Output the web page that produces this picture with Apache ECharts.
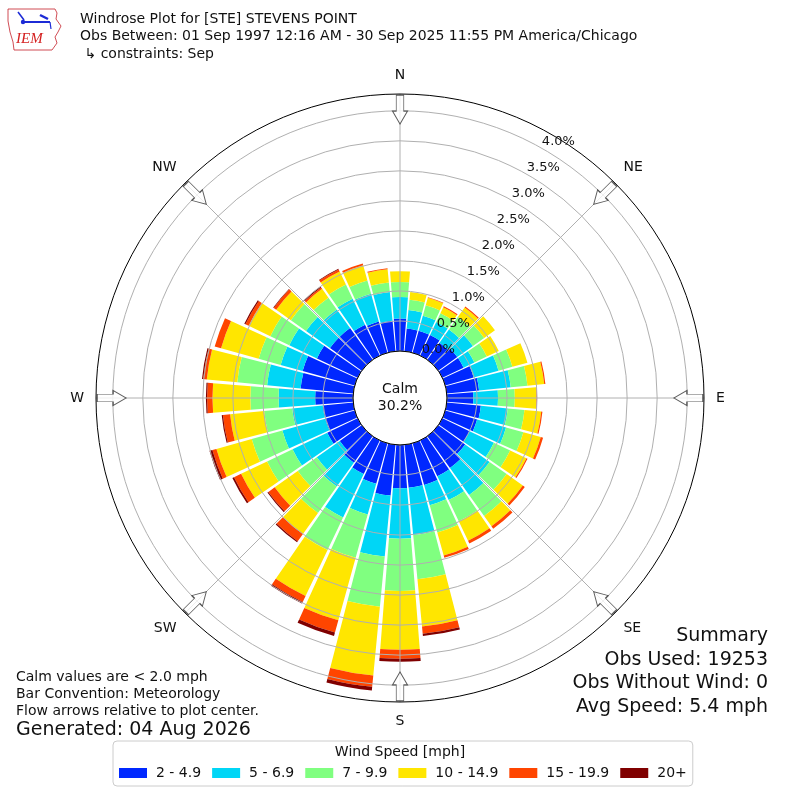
<!DOCTYPE html>
<html>
<head>
<meta charset="utf-8">
<script src="https://cdn.jsdelivr.net/npm/echarts@6/dist/echarts.min.js"></script>
<style>
html,body{margin:0;padding:0;background:#fff;}
#chart{width:800px;height:800px;}
</style>
</head>
<body>
<div id="chart"></div>
<script>
// ---- data (percent of observations), directions 0..350 deg step 10 ----
const directions = ['0','10','20','30','40','50','60','70','80','90','100','110','120','130','140','150','160','170',
  '180','190','200','210','220','230','240','250','260','270','280','290','300','310','320','330','340','350'];
const speedBins = ['2 - 4.9', '5 - 6.9', '7 - 9.9', '10 - 14.9', '15 - 19.9', '20+'];
const binColors = ['#0028ff', '#00d6f6', '#80ff80', '#ffe600', '#ff4500', '#800000'];

const spd2to5   = [.54,.38,.38,.38,.35,.39,.39,.49,.54,.44,.57,.55,.50,.55,.65,.66,.72,.72,.72,.85,.70,.62,.54,.45,.56,.51,.51,.63,.88,.90,.75,.65,.65,.57,.54,.51];
const spd5to7   = [.36,.31,.26,.24,.27,.32,.20,.43,.53,.41,.45,.50,.45,.50,.55,.44,.35,.79,.84,1.02,.53,.80,.49,.47,.64,.74,.51,.61,.56,.38,.51,.49,.38,.48,.48,.48];
const spd7to10  = [.25,.17,.18,.16,.26,.23,.23,.24,.28,.28,.28,.30,.30,.35,.43,.39,.47,.74,.87,.84,.75,.60,.54,.39,.47,.53,.47,.47,.50,.38,.35,.31,.24,.26,.23,.16];
const spd10to15 = [.18,.13,.13,.11,.19,.22,.22,.26,.28,.36,.28,.30,.30,.33,.21,.36,.40,.79,.98,1.15,1.08,.85,.43,.47,.48,.61,.57,.63,.51,.65,.40,.30,.18,.24,.26,.22];
const spd15to20 = [0,0,.01,.02,.02,0,0,0,.02,.01,.02,.04,.02,.04,.05,.05,.04,.12,.15,.19,.21,.11,.15,.13,.13,.07,.12,.09,.06,.11,.06,.05,.03,.04,.03,.02];
const spd20plus = [0,0,0,0,0,0,0,0,0,0,0,0,0,0,0,0,0,.04,.05,.06,.06,.03,.02,.02,.03,.05,.02,.02,.02,0,.02,.01,.02,.01,0,0];
const seriesValues = [spd2to5, spd5to7, spd7to10, spd10to15, spd15to20, spd20plus];

const compassNames = ['N','NE','E','SE','S','SW','W','NW'];
const compassAngles = [0,45,90,135,180,225,270,315];
const ringMax = 4.28;
const ringInterval = 0.5;
const ringLabelMax = 4.0;
const calmPercent = '30.2%';

const titleLines = [
  'Windrose Plot for [STE] STEVENS POINT',
  'Obs Between: 01 Sep 1997 12:16 AM - 30 Sep 2025 11:55 PM America/Chicago',
  ' \u21b3 constraints: Sep'
];
const noteLines = ['Calm values are < 2.0 mph', 'Bar Convention: Meteorology', 'Flow arrows relative to plot center.'];
const generatedText = 'Generated: 04 Aug 2026';
const summaryLines = ['Summary', 'Obs Used: 19253', 'Obs Without Wind: 0', 'Avg Speed: 5.4 mph'];

// ---- chart ----
const FONT = 'DejaVu Sans';
const chart = echarts.init(document.getElementById('chart'), null, {renderer: 'canvas'});
const CENTER = [400, 398];
const RADIUS = [47, 304];

const splitColors = [];
for (let v = 0; v <= ringLabelMax + 1e-9; v += ringInterval) splitColors.push('#b0b0b0');
splitColors.push('rgba(0,0,0,0)');

const barSeries = speedBins.map((name, i) => ({
  name: name,
  type: 'bar',
  coordinateSystem: 'polar',
  polarIndex: 0,
  stack: 'wind',
  data: seriesValues[i],
  barCategoryGap: '10%',
  itemStyle: {color: binColors[i]},
  emphasis: {disabled: true},
  animation: false,
  z: 2
}));

const arrowPath = 'path://M-4,0 L4,0 L4,16 L8,16 L0,29 L-8,16 L-4,16 Z';

const graphics = [];
titleLines.forEach((t, i) => graphics.push({
  type: 'text', left: 80, top: 12 + i * 17.5,
  style: {text: t, fill: '#111', font: '14px "' + FONT + '"'}
}));
noteLines.forEach((t, i) => graphics.push({
  type: 'text', left: 16, top: 670 + i * 17,
  style: {text: t, fill: '#111', font: '14px "' + FONT + '"'}
}));
graphics.push({type: 'text', left: 16, top: 721, style: {text: generatedText, fill: '#111', font: '19px "' + FONT + '"'}});
summaryLines.forEach((t, i) => graphics.push({
  type: 'text', right: 32, top: 627 + i * 23.5,
  style: {text: t, fill: '#111', font: '19px "' + FONT + '"', align: 'right'}
}));
graphics.push({
  type: 'text', x: 400, y: 398, z: 20,
  style: {text: 'Calm\n' + calmPercent, fill: '#111', font: '14px "' + FONT + '"', align: 'center', verticalAlign: 'middle', lineHeight: 17}
});
graphics.push({
  type: 'text', x: 400, y: 752, z: 20,
  style: {text: 'Wind Speed [mph]', fill: '#111', font: '14px "' + FONT + '"', align: 'center', verticalAlign: 'middle'}
});
// IEM logo (approximate)
graphics.push({
  type: 'polygon', z: 5,
  shape: {points: [[8,9],[55,9],[57,13],[56,19],[61,26],[58,32],[55,37],[57,43],[52,50],[14,50],[13,42],[10,32],[8,21]]},
  style: {fill: 'none', stroke: '#c4202a', lineWidth: 0.8}
});
graphics.push({type: 'polyline', z: 6, shape: {points: [[22,22],[50,22]]}, style: {stroke: '#1c2bd6', lineWidth: 2}});
graphics.push({type: 'polyline', z: 6, shape: {points: [[18,12],[24,20]]}, style: {stroke: '#1c2bd6', lineWidth: 1.5}});
graphics.push({type: 'polyline', z: 6, shape: {points: [[40,15],[48,19]]}, style: {stroke: '#1c2bd6', lineWidth: 2.5}});
graphics.push({type: 'polyline', z: 6, shape: {points: [[50,22],[51,29]]}, style: {stroke: '#1c2bd6', lineWidth: 1.2}});
graphics.push({type: 'circle', z: 6, shape: {cx: 23, cy: 22, r: 2.2}, style: {fill: '#1c2bd6'}});
graphics.push({
  type: 'text', left: 16, top: 32, z: 6,
  style: {text: 'IEM', fill: '#d42020', font: 'italic 15px "Liberation Serif"'}
});

const option = {
  backgroundColor: '#ffffff',
  animation: false,
  textStyle: {fontFamily: FONT},
  polar: [
    {center: CENTER, radius: RADIUS},
    {center: CENTER, radius: RADIUS},
    {center: CENTER, radius: RADIUS}
  ],
  angleAxis: [
    {
      polarIndex: 0, type: 'category', data: directions, startAngle: 95, clockwise: true,
      boundaryGap: true,
      axisLine: {show: false}, axisTick: {show: false}, axisLabel: {show: false}, splitLine: {show: false}
    },
    {
      polarIndex: 1, type: 'value', min: 0, max: 360, interval: 45, startAngle: 90, clockwise: true,
      z: 6,
      axisLine: {show: true, lineStyle: {color: '#000', width: 1}},
      axisTick: {show: false},
      axisLabel: {
        show: true, margin: 12, fontSize: 14, color: '#111', fontFamily: FONT,
        formatter: function (v) { const i = compassAngles.indexOf(v); return i >= 0 ? compassNames[i] : ''; }
      },
      splitLine: {show: true, lineStyle: {color: '#b0b0b0', width: 1}}
    },
    {
      polarIndex: 2, type: 'value', min: 0, max: 360, startAngle: 60, clockwise: true,
      axisLine: {show: false}, axisTick: {show: false}, axisLabel: {show: false}, splitLine: {show: false}
    }
  ],
  radiusAxis: [
    {
      polarIndex: 0, type: 'value', min: 0, max: ringMax,
      axisLine: {show: false}, axisTick: {show: false}, axisLabel: {show: false}, splitLine: {show: false}
    },
    {
      polarIndex: 1, type: 'value', min: 0, max: ringMax, interval: ringInterval,
      z: 5,
      axisLine: {show: false}, axisTick: {show: false}, axisLabel: {show: false},
      splitLine: {show: true, lineStyle: {color: splitColors, width: 1}}
    },
    {
      polarIndex: 2, type: 'value', min: 0, max: ringMax, interval: ringInterval,
      z: 7,
      axisLine: {show: false}, axisTick: {show: false}, splitLine: {show: false},
      axisLabel: {
        show: true, margin: 2, fontSize: 13, color: '#111', fontFamily: FONT,
        align: 'left', verticalAlign: 'bottom',
        formatter: function (v) { return v <= ringLabelMax + 1e-6 ? v.toFixed(1) + '%' : ''; }
      }
    }
  ],
  legend: {
    data: speedBins,
    left: 113, top: 741,
    padding: [25, 6, 6, 6],
    itemWidth: 28, itemHeight: 10, itemGap: 11,
    icon: 'rect',
    borderColor: '#cccccc', borderWidth: 1, borderRadius: 4,
    textStyle: {fontSize: 14, color: '#111', fontFamily: FONT, padding: [0, 0, 0, 4]},
    selectedMode: false
  },
  series: barSeries.concat([{
    type: 'scatter',
    coordinateSystem: 'polar',
    polarIndex: 1,
    data: compassAngles.map(a => [4.02, a]),
    symbol: arrowPath,
    symbolSize: [15, 29],
    symbolRotate: function (val) { return -val[1]; },
    itemStyle: {color: '#ffffff', borderColor: '#333', borderWidth: 1},
    emphasis: {disabled: true},
    silent: true,
    z: 10
  }]),
  graphic: graphics
};
chart.setOption(option);
</script>
</body>
</html>
